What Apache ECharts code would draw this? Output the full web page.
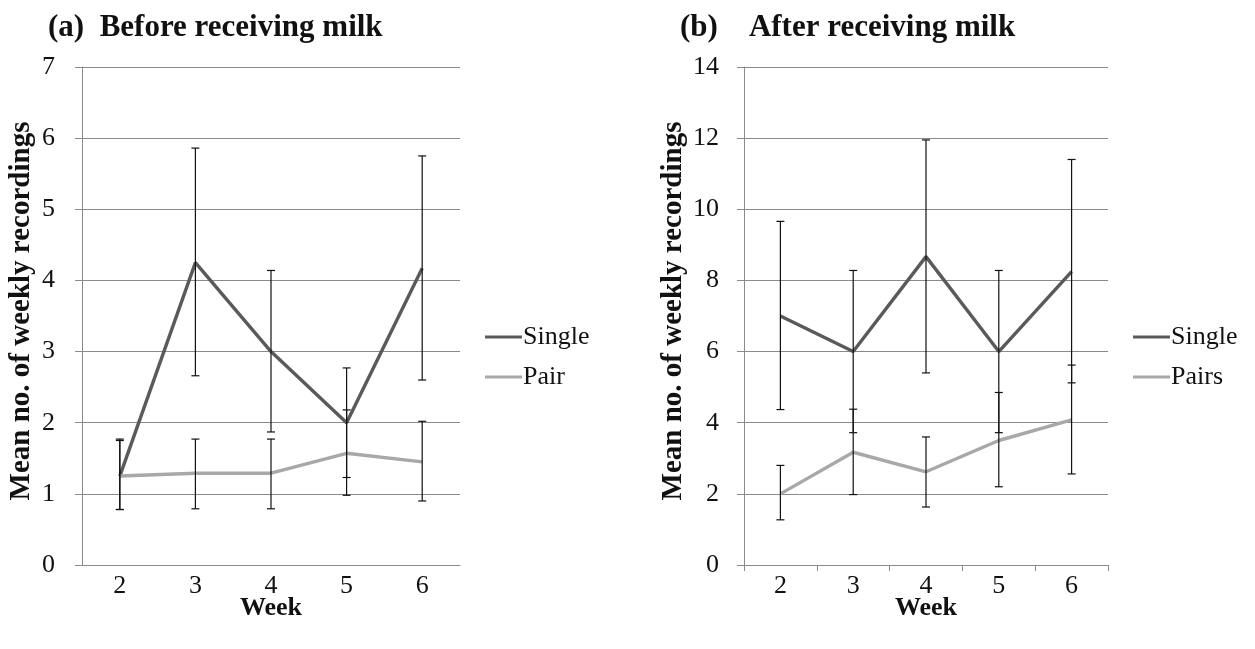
<!DOCTYPE html>
<html><head><meta charset="utf-8">
<script src="https://cdn.jsdelivr.net/npm/echarts@6/dist/echarts.min.js"></script>
<style>html,body{margin:0;padding:0;background:#fff}#c{width:1255px;height:649px}</style>
</head><body><div id="c"></div>
<script>
var weeks = ['2','3','4','5','6'];
// Panel (a) Before receiving milk
var aSingle = [1.25, 4.25, 3.0, 2.0, 4.17];
var aSingleLow = [0.78, 2.66, 1.87, 1.23, 2.6];
var aSingleHigh = [1.77, 5.86, 4.14, 2.77, 5.75];
var aPair = [1.25, 1.29, 1.29, 1.57, 1.45];
var aPairLow = [0.78, 0.79, 0.79, 0.98, 0.9];
var aPairHigh = [1.75, 1.77, 1.77, 2.18, 2.02];
// Panel (b) After receiving milk
var bSingle = [7.0, 6.0, 8.67, 6.0, 8.25];
var bSingleLow = [4.37, 3.72, 5.4, 3.72, 5.12];
var bSingleHigh = [9.66, 8.28, 11.95, 8.28, 11.4];
var bPairs = [2.0, 3.17, 2.62, 3.5, 4.08];
var bPairsLow = [1.27, 1.98, 1.63, 2.2, 2.56];
var bPairsHigh = [2.8, 4.38, 3.6, 4.85, 5.62];
var aTicks = [0, 1, 7]; // min, interval, max
var bTicks = [0, 2, 14];

var SERIF = '"Liberation Serif","Times New Roman",serif';
var cDark = '#5a5a5a', cLight = '#a8a8a8', cGrid = '#8a8a8a';

function errData(low, high) {
  return low.map(function (l, i) { return [i, l, high[i]]; });
}
function errSeries(xi, low, high) {
  return {
    type: 'custom', xAxisIndex: xi, yAxisIndex: xi, silent: true, z: 5,
    data: errData(low, high),
    renderItem: function (params, api) {
      var x = api.value(0);
      var lo = api.coord([x, api.value(1)]);
      var hi = api.coord([x, api.value(2)]);
      var w = 4;
      var st = { stroke: '#111', lineWidth: 1.2 };
      return { type: 'group', children: [
        { type: 'line', shape: { x1: lo[0], y1: lo[1], x2: hi[0], y2: hi[1] }, style: st },
        { type: 'line', shape: { x1: lo[0] - w, y1: lo[1], x2: lo[0] + w, y2: lo[1] }, style: st },
        { type: 'line', shape: { x1: hi[0] - w, y1: hi[1], x2: hi[0] + w, y2: hi[1] }, style: st }
      ]};
    }
  };
}
function lineSeries(xi, name, data, color) {
  return { type: 'line', name: name, xAxisIndex: xi, yAxisIndex: xi, data: data,
    symbol: 'none', lineStyle: { color: color, width: 3.4 }, itemStyle: { color: color }, z: 3 };
}
function xAx(gi, ticks) {
  return { type: 'category', gridIndex: gi, data: weeks, boundaryGap: true,
    axisLine: { lineStyle: { color: cGrid, width: 1 } },
    axisTick: { show: ticks, length: 6, lineStyle: { color: cGrid } },
    axisLabel: { color: '#111', fontFamily: SERIF, fontSize: 26, margin: 8 },
    name: 'Week', nameLocation: 'middle', nameGap: 30, nameMoveOverlap: false,
    nameTextStyle: { color: '#111', fontFamily: SERIF, fontSize: 26, fontWeight: 'bold', verticalAlign: 'top' } };
}
function yAx(gi, t, gap, margin) {
  return { type: 'value', gridIndex: gi, min: t[0], interval: t[1], max: t[2],
    axisLine: { show: true, lineStyle: { color: cGrid, width: 1 } },
    axisTick: { show: true, length: 7, lineStyle: { color: cGrid } },
    splitLine: { lineStyle: { color: cGrid, width: 1 } },
    axisLabel: { color: '#111', fontFamily: SERIF, fontSize: 26, margin: margin },
    name: 'Mean no. of weekly recordings', nameLocation: 'middle', nameGap: gap, nameRotate: 90,
    nameMoveOverlap: false,
    nameTextStyle: { color: '#111', fontFamily: SERIF, fontSize: 29, fontWeight: 'bold', padding: [0, 0, 0, 10] } };
}
function leg(left, names) {
  return { left: left, top: 324, orient: 'vertical', itemWidth: 37, itemHeight: 3, itemGap: 14,
    icon: 'rect', data: names, selectedMode: false, padding: 0,
    textStyle: { color: '#111', fontFamily: SERIF, fontSize: 26, padding: [0, 0, 0, -4] } };
}

var chart = echarts.init(document.getElementById('c'), null, { renderer: 'canvas' });
chart.setOption({
  animation: false,
  backgroundColor: '#fff',
  title: [
    { text: '(a)  Before receiving milk', left: 48, top: 12, padding: 0,
      textStyle: { fontFamily: SERIF, fontSize: 31, fontWeight: 'bold', color: '#111' } },
    { text: '(b)    After receiving milk', left: 680, top: 12, padding: 0,
      textStyle: { fontFamily: SERIF, fontSize: 31, fontWeight: 'bold', color: '#111' } }
  ],
  legend: [ leg(485, ['Single', 'Pair']), leg(1133, ['Single', 'Pairs']) ],
  grid: [
    { left: 82, width: 378, top: 67, bottom: 84 },
    { left: 744, width: 364, top: 67, bottom: 84 }
  ],
  xAxis: [ xAx(0, false), xAx(1, true) ],
  yAxis: [ yAx(0, aTicks, 46, 27), yAx(1, bTicks, 56, 25) ],
  series: [
    lineSeries(0, 'Single', aSingle, cDark),
    lineSeries(0, 'Pair', aPair, cLight),
    errSeries(0, aSingleLow, aSingleHigh),
    errSeries(0, aPairLow, aPairHigh),
    lineSeries(1, 'Single', bSingle, cDark),
    lineSeries(1, 'Pairs', bPairs, cLight),
    errSeries(1, bSingleLow, bSingleHigh),
    errSeries(1, bPairsLow, bPairsHigh)
  ]
});
</script></body></html>
